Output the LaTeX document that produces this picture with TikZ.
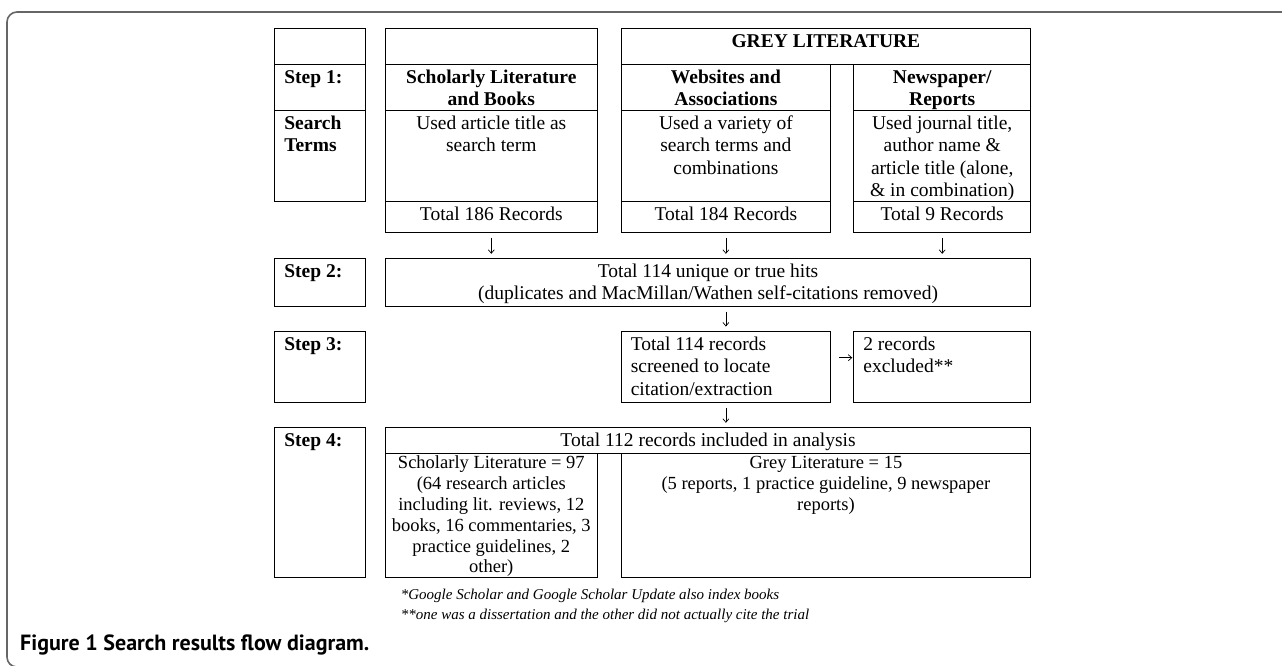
\documentclass[tikz,border=0pt]{standalone}
\usepackage{fontspec}
\setmainfont{Liberation Serif}
\newfontfamily\capfont{PT Sans}
\usetikzlibrary{arrows.meta}
\newcommand{\cellc}[3]{\parbox[c][#2][t]{#1}{\centering\rule{0pt}{18.5pt}#3}}
\newcommand{\celll}[3]{\parbox[c][#2][t]{#1}{\raggedright\leftskip=9.5pt\rule{0pt}{18.5pt}#3}}
\newcommand{\cellf}[3]{\parbox[c][#2][t]{#1}{\fontsize{18.5}{20.8}\selectfont\centering\rule{0pt}{15pt}#3}}
\begin{document}
\begin{tikzpicture}[x=1pt,y=-1pt,
  every node/.style={font=\fontsize{19.5}{22.5}\selectfont, text=black},
  cellbox/.style={draw=black, line width=1.1pt, inner sep=0pt, anchor=north west},
  arr/.style={-{Straight Barb[length=3.5pt,width=6pt]}, line width=0.7pt, shorten <=4.5pt, shorten >=4.5pt},
  frame/.style={draw=black!60, line width=1.6pt, rounded corners=10pt},
  note/.style={font=\fontsize{15}{18}\selectfont\itshape, anchor=base west, inner sep=0pt},
  captext/.style={font=\fontsize{22}{26}\selectfont\capfont\bfseries, anchor=base west, inner sep=0pt}]
\useasboundingbox (0,0) rectangle (1282,665);
\draw[frame] (1295,12) -- (7,12) -- (7,667) -- (30,667);
% Step column
\node[cellbox] (st0) at (274.3,28.3) {\cellc{90.2pt}{36pt}{}};
\node[cellbox] (st1) at (274.3,64.3) {\celll{90.2pt}{46pt}{\bfseries Step 1:}};
\node[cellbox] (st2) at (274.3,110.3) {\celll{90.2pt}{90.7pt}{\bfseries Search\\Terms}};
% Scholarly column
\node[cellbox] (sc0) at (385,28.3) {\cellc{211.5pt}{36pt}{}};
\node[cellbox] (sc1) at (385,64.3) {\cellc{211.5pt}{46pt}{\bfseries Scholarly Literature\\and Books}};
\node[cellbox] (sc2) at (385,110.3) {\cellc{211.5pt}{90.7pt}{Used article title as\\search term}};
\node[cellbox] (sc3) at (385,201) {\cellc{211.5pt}{31.3pt}{Total 186 Records}};
% Grey literature
\node[cellbox] (gr0) at (620.7,28.3) {\cellc{409.3pt}{36pt}{\bfseries GREY LITERATURE}};
\node[cellbox] (we1) at (620.7,64.3) {\cellc{209.3pt}{46pt}{\bfseries Websites and\\Associations}};
\node[cellbox] (we2) at (620.7,110.3) {\cellc{209.3pt}{90.7pt}{Used a variety of\\search terms and\\combinations}};
\node[cellbox] (we3) at (620.7,201) {\cellc{209.3pt}{31.3pt}{Total 184 Records}};
\node[cellbox] (nw1) at (853.3,64.3) {\cellc{176.7pt}{46pt}{\bfseries Newspaper/\\Reports}};
\node[cellbox] (nw2) at (853.3,110.3) {\cellc{176.7pt}{90.7pt}{Used journal title,\\author name \&\\article title (alone,\\\& in combination)}};
\node[cellbox] (nw3) at (853.3,201) {\cellc{176.7pt}{31.3pt}{Total 9 Records}};
% Step 2
\node[cellbox] (s2lab) at (274.3,258.3) {\celll{90.2pt}{47.7pt}{\bfseries Step 2:}};
\node[cellbox] (s2main) at (385,258.3) {\cellc{645pt}{47.7pt}{Total 114 unique or true hits\\(duplicates and MacMillan/Wathen self-citations removed)}};
% Step 3
\node[cellbox] (s3lab) at (274.3,331) {\celll{90.2pt}{71.3pt}{\bfseries Step 3:}};
\node[cellbox] (s3mid) at (620.7,331) {\celll{209.3pt}{71.3pt}{Total 114 records\\screened to locate\\citation/extraction}};
\node[cellbox] (s3exc) at (853.3,331) {\celll{176.7pt}{71.3pt}{2 records\\excluded**}};
% Step 4
\node[cellbox] (s4lab) at (274.3,427.3) {\celll{90.2pt}{150pt}{\bfseries Step 4:}};
\node[cellbox] (s4head) at (385,427.3) {\cellc{645pt}{26pt}{Total 112 records included in analysis}};
\node[cellbox] (s4sch) at (385,453.3) {\cellf{211.5pt}{124pt}{Scholarly Literature = 97\\(64 research articles\\including lit. reviews, 12\\books, 16 commentaries, 3\\practice guidelines, 2\\other)}};
\node[cellbox] (s4grey) at (620.7,453.3) {\cellf{409.3pt}{124pt}{Grey Literature = 15\\(5 reports, 1 practice guideline, 9 newspaper\\reports)}};
% Connectors
\draw[arr] (sc3.south) -- (sc3.south |- s2main.north);
\draw[arr] (we3.south) -- (we3.south |- s2main.north);
\draw[arr] (nw3.south) -- (nw3.south |- s2main.north);
\draw[arr] (s3mid.north |- s2main.south) -- (s3mid.north);
\draw[arr] (s3mid.south) -- (s3mid.south |- s4head.north);
\draw[arr, shorten <=8pt, shorten >=1pt] ([yshift=9.5pt]s3mid.east) -- ([yshift=9.5pt]s3exc.west);
% Notes and caption
\node[note] (fn1) at (400.7,599) {*Google Scholar and Google Scholar Update also index books};
\node[note] (fn2) at (400.7,619) {**one was a dissertation and the other did not actually cite the trial};
\node[captext] (cap) at (20,650) {Figure 1 Search results flow diagram.};
\end{tikzpicture}
\end{document}
